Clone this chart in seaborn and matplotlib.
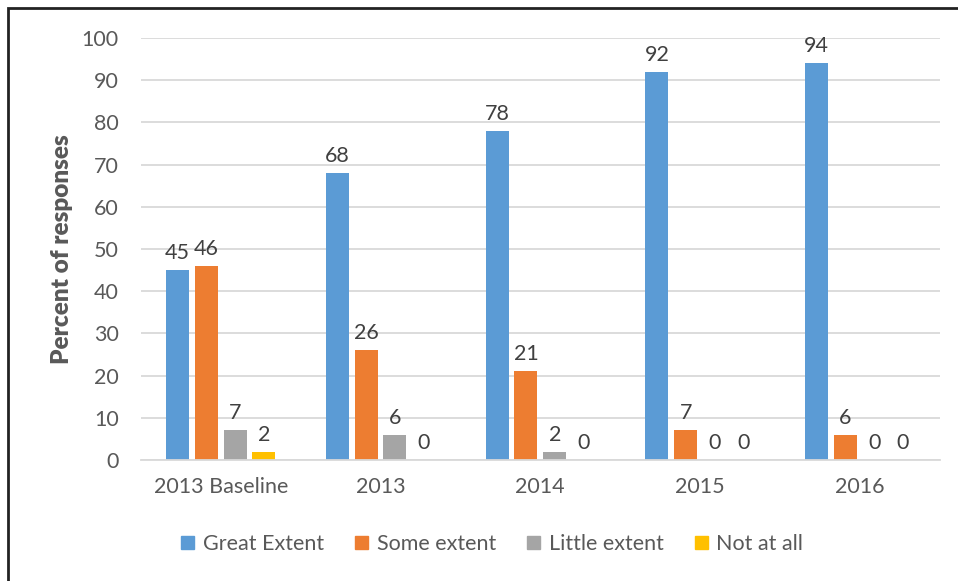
import pandas as pd
import numpy as np
import matplotlib.pyplot as plt
import matplotlib.patches as mpatches
import seaborn as sns

years = ["2013 Baseline", "2013", "2014", "2015", "2016"]
great_extent = [45, 68, 78, 92, 94]
some_extent = [46, 26, 21, 7, 6]
little_extent = [7, 6, 2, 0, 0]
not_at_all = [2, 0, 0, 0, 0]
series_names = ["Great Extent", "Some extent", "Little extent", "Not at all"]
colors = ["#5B9BD5", "#ED7D31", "#A5A5A5", "#FFC000"]

df = pd.DataFrame({
    "year": years * 4,
    "response": np.repeat(series_names, len(years)),
    "value": great_extent + some_extent + little_extent + not_at_all,
})

sns.set_style("white")
plt.rcParams["font.family"] = ["Lato", "DejaVu Sans"]
text_color = "#595959"
fs = 15.5

fig = plt.figure(figsize=(9.58, 5.81), dpi=100)
ax = fig.add_axes([0.147, 0.2083, 0.834, 0.7263])

sns.barplot(data=df, x="year", y="value", hue="response", order=years,
            hue_order=series_names, palette=colors, width=0.72, gap=0.2,
            saturation=1, ax=ax, legend=True, edgecolor="none")

ax.set_ylim(0, 100)
ax.set_yticks(range(0, 101, 10))
ax.yaxis.grid(True, color="#D9D9D9", linewidth=1.3)
ax.set_axisbelow(True)
for s in ["top", "right", "left"]:
    ax.spines[s].set_visible(False)
ax.spines["bottom"].set_color("#D9D9D9")
ax.spines["bottom"].set_linewidth(1.3)
ax.tick_params(axis="y", length=0, pad=16, labelsize=fs, labelcolor=text_color)
ax.tick_params(axis="x", length=0, pad=12, labelsize=fs, labelcolor=text_color)
ax.set_xlabel("")
ax.set_ylabel("Percent of responses", fontsize=17.5, fontweight="heavy",
              color=text_color, labelpad=6)

for cont in ax.containers:
    ax.bar_label(cont, fmt="%d", padding=5, fontsize=fs, color="#404040")

handles = [mpatches.Patch(color=c) for c in colors]
ax.legend(handles, series_names, loc="center", bbox_to_anchor=(0.44, -0.199),
          ncol=4, frameon=False, fontsize=fs, handlelength=0.6,
          handleheight=0.6, handletextpad=0.4, columnspacing=1.45,
          labelcolor=text_color)

# partial border like the cropped original
fig.patches.append(mpatches.Rectangle((8 / 958, -0.1), 1.2, 1.1 - 8 / 581,
                                      transform=fig.transFigure, fill=False,
                                      edgecolor="#222222", linewidth=2))

fig.savefig("out.png", dpi=100)
